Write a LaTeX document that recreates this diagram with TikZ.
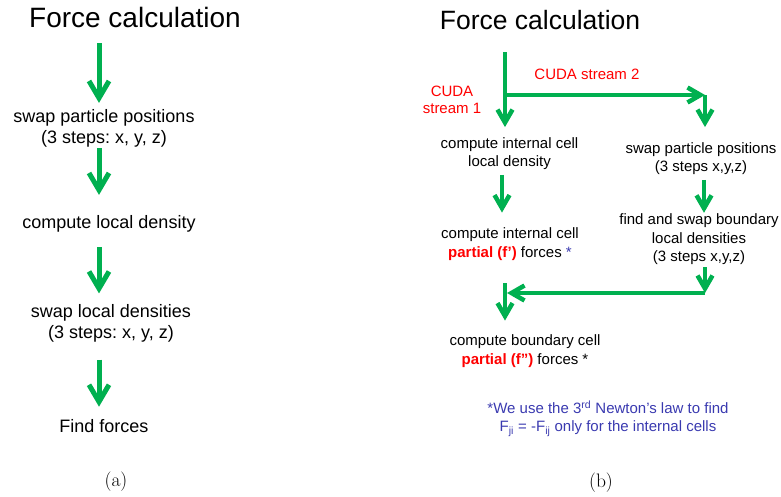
\documentclass[tikz,border=0pt]{standalone}
\usepackage{fontspec}
\usepackage{xcolor}
\usepackage{tikz}
\usetikzlibrary{arrows.meta}
\newfontfamily\arial{Liberation Sans}
\definecolor{arrgreen}{RGB}{0,176,80}
\definecolor{noteblue}{RGB}{58,58,176}
\frenchspacing

\begin{document}
\begin{tikzpicture}[
  x=1pt, y=-1pt,
  heading/.style={font=\arial\fontsize{28}{32}\selectfont, inner sep=0pt},
  labela/.style={font=\arial\fontsize{18}{21}\selectfont, align=center, inner sep=0pt},
  labelb/.style={font=\arial\fontsize{15}{18.5}\selectfont, align=center, inner sep=0pt},
  stream/.style={labelb, text=red, font=\arial\fontsize{15}{17}\selectfont},
  note/.style={labelb, text=noteblue},
  subcap/.style={font=\fontsize{19.5}{22}\selectfont, inner sep=0pt},
  arra/.style={draw=arrgreen, line width=5pt, -{Straight Barb[length=17pt,width=20pt]}},
  arrb/.style={draw=arrgreen, line width=4.5pt, -{Straight Barb[length=13pt,width=15pt]}},
]
  \useasboundingbox (0,0) rectangle (781,496);

  % (a) single stream
  \coordinate (cola) at (99,0);
  \node[heading] (ta) at (135,17) {Force calculation};
  \node[labela] (a1) at (104,128) {swap particle positions\\(3 steps: x, y, z)};
  \node[labela] (a2) at (109,223.5) {compute local density};
  \node[labela] (a3) at (111,323.5) {swap local densities\\(3 steps: x, y, z)};
  \node[labela] (a4) at (104,426.5) {Find forces};
  \node[subcap] (capa) at (116,482) {(a)};

  \draw[arra, shorten <=16pt, shorten >=6pt] (ta.south -| cola) -- (a1.north -| cola);
  \draw[arra, shorten <=1pt, shorten >=20pt] (a1.south -| cola) -- (a2.north -| cola);
  \draw[arra, shorten <=15pt, shorten >=11pt] (a2.south -| cola) -- (a3.north -| cola);
  \draw[arra, shorten <=17pt, shorten >=13pt] (a3.south -| cola) -- (a4.north -| cola);

  % (b) two CUDA streams
  \coordinate (top) at (505,52);
  \coordinate (split) at (505,95);
  \coordinate (corner) at (705,95);
  \coordinate (join) at (705,293);
  \coordinate (merge) at (505,283);
  \coordinate (colb) at (502,0);
  \coordinate (colc) at (704,0);

  \node[heading, font=\arial\fontsize{26.5}{30}\selectfont] (tb) at (540,20.5) {Force calculation};
  \node[stream] (cs2) at (587,74.5) {CUDA stream 2};
  \node[stream] (cs1) at (452,100) {CUDA\\stream 1};
  \node[labelb] (b1) at (509.5,153.5) {compute internal cell\\local density};
  \node[labelb] (b2) at (510,244) {compute internal cell\\{\bfseries\color{red}partial (f’)} forces \textcolor{noteblue}{*}};
  \node[labelb] (c1) at (701,158.5) {swap particle positions\\(3 steps x,y,z)};
  \node[labelb] (c2) at (699,239.5) {find and swap boundary\\local densities\\(3 steps x,y,z)};
  \node[labelb] (b3) at (525,351) {compute boundary cell\\{\bfseries\color{red}partial (f”)} forces *};
  \node[note] (nt) at (608,418.5) {*We use the 3\textsuperscript{rd} Newton’s law to find\\F\textsubscript{ji} = -F\textsubscript{ij} only for the internal cells};
  \node[subcap] (capb) at (601,483) {(b)};

  \draw[arrb, shorten >=10pt] (top) -- (b1.north -| top);
  \draw[arrb] (split) -- (corner);
  \draw[arrb, shorten >=15pt] (corner) -- (c1.north -| corner);
  \draw[arrb, shorten <=5pt, shorten >=15pt] (b1.south -| colb) -- (b2.north -| colb);
  \draw[arrb, shorten <=5pt, shorten >=1pt] (c1.south -| colc) -- (c2.north -| colc);
  \draw[arrb, shorten <=2pt] (c2.south -| join) -- (join);
  \draw[arrb, shorten >=2pt] (join) -- (merge |- join);
  \draw[arrb, shorten >=14pt] (merge) -- (b3.north -| merge);
\end{tikzpicture}
\end{document}
